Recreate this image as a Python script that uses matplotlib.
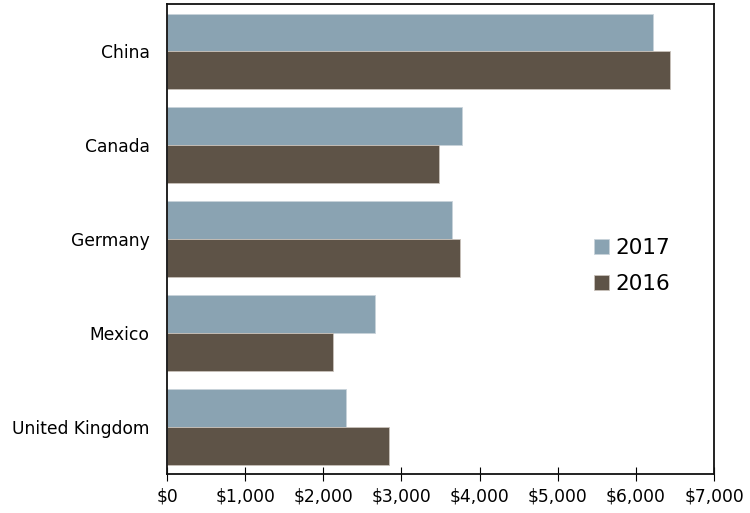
import numpy as np
import matplotlib
matplotlib.use("Agg")
import matplotlib.pyplot as plt
from matplotlib.ticker import FuncFormatter

# data
countries = ["China", "Canada", "Germany", "Mexico", "United Kingdom"]
vals_2017 = [6220, 3780, 3645, 2660, 2290]
vals_2016 = [6440, 3485, 3750, 2120, 2840]
xticks = [0, 1000, 2000, 3000, 4000, 5000, 6000, 7000]

c17 = "#8aa3b2"
c16 = "#5e5347"

fig = plt.figure(figsize=(7.5, 5.13), dpi=100)
ax = fig.add_axes([0.2227, 0.076, 0.7293, 0.916])

y = np.arange(len(countries))
h = 0.4
ax.barh(y - h / 2, vals_2017, height=h, color=c17, edgecolor="#c8d3da", linewidth=0.6, label="2017")
ax.barh(y + h / 2, vals_2016, height=h, color=c16, edgecolor="#c9c2bb", linewidth=0.6, label="2016")

ax.set_ylim(len(countries) - 0.5, -0.5)
ax.set_xlim(0, 7000)
ax.set_yticks(y)
ax.set_yticklabels(countries, fontsize=12.3)
ax.tick_params(axis="y", length=0, pad=12.5)
ax.set_xticks(xticks)
ax.xaxis.set_major_formatter(FuncFormatter(lambda v, p: "${:,.0f}".format(v)))
ax.tick_params(axis="x", direction="inout", length=10, labelsize=12.3, pad=5)

for s in ax.spines.values():
    s.set_linewidth(1.3)
    s.set_color("#111111")

ax.legend(loc="center left", bbox_to_anchor=(0.745, 0.443), frameon=False,
          fontsize=15.5, handlelength=0.7, handleheight=0.7, handletextpad=0.3,
          labelspacing=0.72)

fig.savefig("out.png", dpi=100)
